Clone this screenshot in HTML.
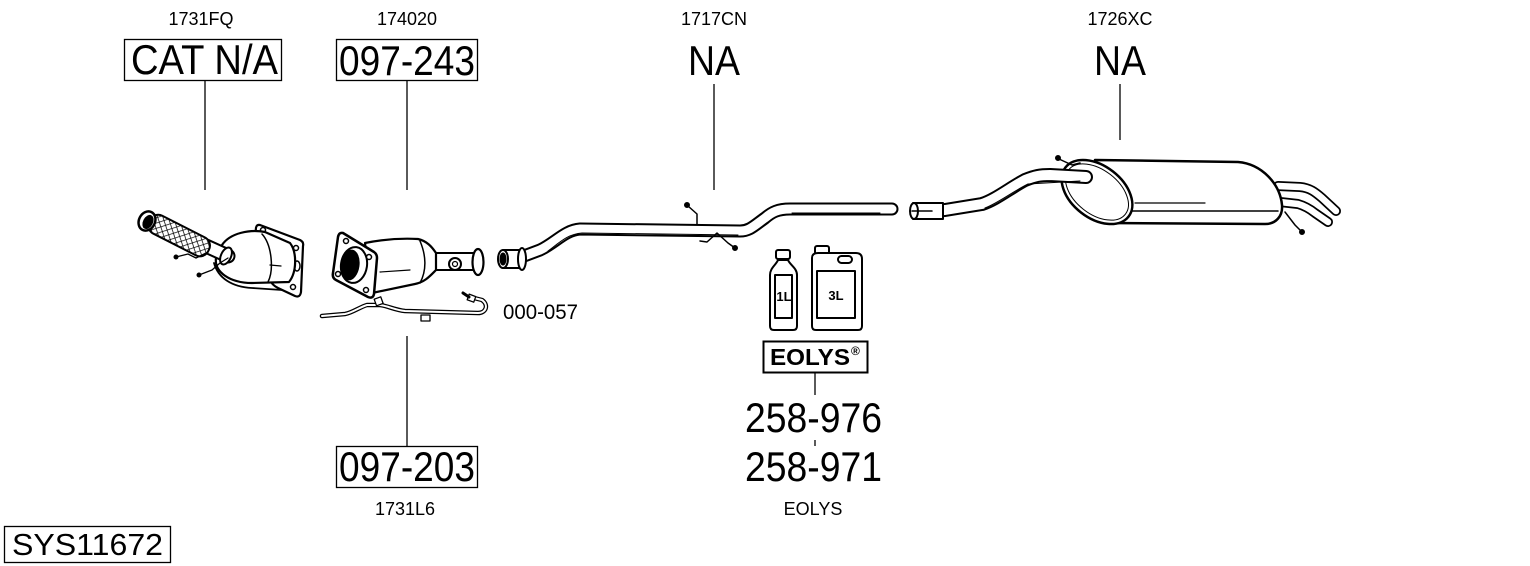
<!DOCTYPE html>
<html><head><meta charset="utf-8">
<style>
html,body{margin:0;padding:0;background:#fff;}
svg{display:block;}
text{font-family:"Liberation Sans",Arial,sans-serif;fill:#000;}
</style></head><body>
<svg width="1530" height="566" viewBox="0 0 1530 566" xmlns="http://www.w3.org/2000/svg">
<defs>
<pattern id="mesh" width="5" height="5" patternUnits="userSpaceOnUse" patternTransform="rotate(45)">
<rect width="5" height="5" fill="#fff"/>
<path d="M0,0 H5 M0,0 V5" stroke="#000" stroke-width="1.4"/>
</pattern>
</defs>

<!-- small labels -->
<text x="201" y="25" font-size="18" text-anchor="middle">1731FQ</text>
<text x="407" y="25" font-size="18" text-anchor="middle">174020</text>
<text x="714" y="25" font-size="18" text-anchor="middle">1717CN</text>
<text x="1120" y="25" font-size="18" text-anchor="middle">1726XC</text>

<!-- top boxes -->
<rect x="124.5" y="39.5" width="157" height="41" fill="none" stroke="#000" stroke-width="1.3"/>
<text x="131" y="74" font-size="42" textLength="147" lengthAdjust="spacingAndGlyphs">CAT N/A</text>
<rect x="336.5" y="39.5" width="141" height="41" fill="none" stroke="#000" stroke-width="1.3"/>
<text x="339" y="75" font-size="42" textLength="136" lengthAdjust="spacingAndGlyphs">097-243</text>
<text x="688" y="75" font-size="42" textLength="52" lengthAdjust="spacingAndGlyphs">NA</text>
<text x="1094" y="75" font-size="42" textLength="52" lengthAdjust="spacingAndGlyphs">NA</text>

<!-- leader lines -->
<g stroke="#000" stroke-width="1.3">
<line x1="205" y1="81" x2="205" y2="190"/>
<line x1="407" y1="81" x2="407" y2="190"/>
<line x1="714" y1="84" x2="714" y2="190"/>
<line x1="1120" y1="84" x2="1120" y2="140"/>
<line x1="407" y1="336" x2="407" y2="446"/>
<line x1="815" y1="372" x2="815" y2="395"/>
<line x1="815" y1="440" x2="815" y2="446"/>
</g>

<!-- bottom labels -->
<rect x="336.5" y="446.5" width="141" height="41" fill="none" stroke="#000" stroke-width="1.3"/>
<text x="339" y="481" font-size="42" textLength="136" lengthAdjust="spacingAndGlyphs">097-203</text>
<text x="405" y="515" font-size="18" text-anchor="middle">1731L6</text>
<text x="503" y="319" font-size="21" textLength="75" lengthAdjust="spacingAndGlyphs">000-057</text>
<text x="745" y="432" font-size="42" textLength="137" lengthAdjust="spacingAndGlyphs">258-976</text>
<text x="745" y="481" font-size="42" textLength="137" lengthAdjust="spacingAndGlyphs">258-971</text>
<text x="813" y="515" font-size="18" text-anchor="middle">EOLYS</text>
<rect x="4.5" y="526.5" width="166" height="36" fill="none" stroke="#000" stroke-width="1.3"/>
<text x="12" y="555" font-size="31" textLength="151" lengthAdjust="spacingAndGlyphs">SYS11672</text>

<!-- ===== Catalyst 1731FQ ===== -->
<g stroke="#000" stroke-linejoin="round" stroke-linecap="round" fill="#fff">
<path d="M260,225 L300,240 Q304,242 303,246 L301,292 Q300,298 295,296 L278,288 Q272,285 270,280 L256,232 Q255,224 260,225 Z" stroke-width="2.2"/>
<circle cx="263" cy="230" r="2.5" stroke-width="1.5"/>
<circle cx="296" cy="248" r="2.5" stroke-width="1.5"/>
<circle cx="293" cy="287" r="2.5" stroke-width="1.5"/>
<ellipse cx="297" cy="266" rx="3" ry="5" stroke-width="1.5"/>
<path d="M214,263 C218,278 232,287 252,288 L282,290" fill="none" stroke-width="1.8"/>
<path d="M222,245 C230,233 250,229 265,232 L290,243 C297,252 297,272 289,282 L252,283 C230,283 214,272 216,258 C217,252 219,249 222,245 Z" stroke-width="2.2"/>
<path d="M262,234 C272,245 274,270 268,282" fill="none" stroke-width="1.5"/>
<path d="M270,265 L281,266" fill="none" stroke-width="1.3"/>
<path d="M206,246 L228,256" stroke-width="15"/>
<path d="M206,246 L228,256" stroke="#fff" stroke-width="11"/>
<ellipse cx="226" cy="256" rx="5" ry="9" transform="rotate(25 226 256)" stroke-width="2"/>
<g transform="translate(180,236) rotate(27)">
<rect x="-34" y="-10" width="66" height="20" rx="9" fill="url(#mesh)" stroke-width="2"/>
</g>
<ellipse cx="147" cy="221" rx="8" ry="10" transform="rotate(27 147 221)" stroke-width="2.5"/>
<ellipse cx="148" cy="222" rx="4.5" ry="7" transform="rotate(27 148 222)" fill="#000" stroke-width="1"/>
<path d="M176,257 L188,254 L196,258 L208,252" fill="none" stroke-width="1.3"/>
<path d="M199,275 L212,270 L220,263 L228,258" fill="none" stroke-width="1.3"/>
<circle cx="176" cy="257" r="2" fill="#000"/>
<circle cx="199" cy="275" r="2" fill="#000"/>
</g>

<!-- ===== DPF 174020 ===== -->
<g stroke="#000" stroke-linejoin="round" stroke-linecap="round" fill="#fff">
<rect x="432" y="253" width="42" height="17" stroke-width="2"/>
<path d="M365,243 C380,240 400,238 418,239 C427,241 432,247 436,253 L436,270 C430,276 425,282 415,284 L372,293 Z" stroke-width="2.2"/>
<path d="M420,241 C426,255 427,270 420,283" fill="none" stroke-width="1.5"/>
<path d="M380,272 L410,270" fill="none" stroke-width="1.2"/>
<circle cx="455" cy="264" r="6" stroke-width="2"/>
<circle cx="455" cy="264" r="2.5" stroke-width="1.2"/>
<ellipse cx="478" cy="262" rx="5.5" ry="13" stroke-width="2.2"/>
<path d="M343,233 L374,252 Q377,254 377,258 L374,294 Q373,299 368,297 L336,280 Q332,278 333,273 L338,237 Q339,232 343,233 Z" stroke-width="2.5"/>
<ellipse cx="354" cy="265" rx="13" ry="18" transform="rotate(8 354 265)" stroke-width="2"/>
<ellipse cx="350" cy="265" rx="9" ry="15" transform="rotate(8 350 265)" fill="#000" stroke-width="1"/>
<circle cx="346" cy="241" r="2.5" stroke-width="1.5"/>
<circle cx="369" cy="257" r="2.5" stroke-width="1.5"/>
<circle cx="366" cy="290" r="2.5" stroke-width="1.5"/>
<circle cx="338" cy="274" r="2.5" stroke-width="1.5"/>
<!-- 000-057 tube -->
<path d="M322,316 L345,314 C352,313 360,307 367,305 L380,305 C388,306 395,310 405,311 L478,313 C486,313 489,305 482,300 L474,298" fill="none" stroke-width="4.5"/>
<path d="M322,316 L345,314 C352,313 360,307 367,305 L380,305 C388,306 395,310 405,311 L478,313 C486,313 489,305 482,300 L474,298" fill="none" stroke="#fff" stroke-width="2"/>
<rect x="375" y="298" width="7" height="7" transform="rotate(-20 378 301)" stroke-width="1.3"/>
<rect x="421" y="315" width="9" height="6" stroke-width="1.3"/>
<rect x="468" y="295" width="7" height="6" transform="rotate(20 471 298)" stroke-width="1.3"/>
<path d="M463,293 L469,297" stroke-width="3"/>
</g>

<!-- ===== Center pipe 1717CN ===== -->
<g stroke="#000" stroke-linejoin="round" stroke-linecap="round" fill="none">
<path d="M524,256 L540,250 C555,243 565,230 580,229 L740,231 C750,231 755,225 765,218 C772,212 778,209 790,209 L892,209" stroke-width="13"/>
<path d="M524,256 L540,250 C555,243 565,230 580,229 L740,231 C750,231 755,225 765,218 C772,212 778,209 790,209 L892,209" stroke="#fff" stroke-width="9"/>
<path d="M548,251 C560,242 568,234 582,233 L738,235" stroke-width="1"/>
<path d="M792,213 L880,213" stroke-width="1"/>
<rect x="503" y="250" width="18" height="18" fill="#fff" stroke-width="2"/>
<ellipse cx="522" cy="259" rx="4" ry="11" fill="#fff" stroke-width="2"/>
<ellipse cx="503" cy="259" rx="5" ry="9" fill="#fff" stroke-width="2"/>
<ellipse cx="503" cy="259" rx="3" ry="6" fill="#000" stroke-width="1"/>
<path d="M697,224 L697,214 L688,206" stroke-width="1.5"/>
<circle cx="687" cy="205" r="2.5" fill="#000"/>
<path d="M700,241 L707,242 L717,233 L728,243 L735,248" stroke-width="1.5"/>
<circle cx="735" cy="248" r="2.5" fill="#000"/>
</g>

<!-- ===== Rear muffler 1726XC ===== -->
<g stroke="#000" stroke-linejoin="round" stroke-linecap="round" fill="#fff">
<path d="M1278,186 L1300,187 C1310,188 1315,192 1322,198 L1336,211" fill="none" stroke-width="10"/>
<path d="M1278,186 L1300,187 C1310,188 1315,192 1322,198 L1336,211" fill="none" stroke="#fff" stroke-width="6.5"/>
<path d="M1280,202 L1298,204 C1305,206 1310,209 1315,213 L1328,222" fill="none" stroke-width="10"/>
<path d="M1280,202 L1298,204 C1305,206 1310,209 1315,213 L1328,222" fill="none" stroke="#fff" stroke-width="6.5"/>
<path d="M1095,160 L1238,162 C1262,164 1280,184 1282,205 C1283,216 1276,224 1265,224 L1105,223 Z" stroke-width="2.5"/>
<path d="M1130,211 L1278,211" fill="none" stroke-width="1.5"/>
<path d="M1135,203 L1205,203" fill="none" stroke-width="1.2"/>
<ellipse cx="1097" cy="192" rx="40" ry="26" transform="rotate(38 1097 192)" stroke-width="2.5"/>
<ellipse cx="1097" cy="192" rx="36" ry="22" transform="rotate(38 1097 192)" fill="none" stroke-width="1"/>
<path d="M925,211 L945,210 L982,204 C995,200 1010,188 1025,180 C1035,176 1040,175 1050,175 L1086,177" fill="none" stroke-width="14"/>
<path d="M925,211 L945,210 L982,204 C995,200 1010,188 1025,180 C1035,176 1040,175 1050,175 L1086,177" fill="none" stroke="#fff" stroke-width="10"/>
<path d="M985,208 C998,203 1012,192 1028,184 L1080,181" fill="none" stroke-width="1"/>
<rect x="913" y="203" width="30" height="16" stroke-width="2"/>
<ellipse cx="914" cy="211" rx="4" ry="8" stroke-width="2"/>
<path d="M912,211 L932,211" fill="none" stroke-width="1.5"/>
<path d="M1059,159 L1072,165 L1080,163" fill="none" stroke-width="1.5"/>
<circle cx="1058" cy="158" r="2.5" fill="#000"/>
<path d="M1285,212 L1295,225 L1302,232" fill="none" stroke-width="1.5"/>
<circle cx="1302" cy="232" r="2.5" fill="#000"/>
</g>

<!-- ===== EOLYS bottles ===== -->
<g stroke="#000" stroke-linejoin="round" fill="#fff" stroke-width="2">
<rect x="776" y="250" width="14" height="9" rx="2"/>
<path d="M770,326 L770,275 C770,268 776,265 778,260 L788,260 C790,265 797,268 797,275 L797,326 Q797,330 793,330 L774,330 Q770,330 770,326 Z"/>
<rect x="775" y="275" width="17" height="43"/>
<rect x="815" y="246" width="14" height="8" rx="2"/>
<path d="M812,326 L812,258 Q812,253 818,253 L856,253 Q862,253 862,259 L862,326 Q862,330 858,330 L816,330 Q812,330 812,326 Z"/>
<rect x="838" y="256" width="14" height="7" rx="3.5"/>
<rect x="817" y="271" width="38" height="47"/>
</g>
<text x="784" y="301" font-size="13" font-weight="bold" text-anchor="middle">1L</text>
<text x="836" y="300" font-size="13" font-weight="bold" text-anchor="middle">3L</text>
<rect x="763.5" y="341.5" width="104" height="31" fill="#fff" stroke="#000" stroke-width="2"/>
<text x="770" y="365" font-size="23.5" font-weight="bold" textLength="80" lengthAdjust="spacingAndGlyphs">EOLYS</text>
<text x="851" y="355" font-size="12" font-weight="bold">®</text>
</svg>
</body></html>
